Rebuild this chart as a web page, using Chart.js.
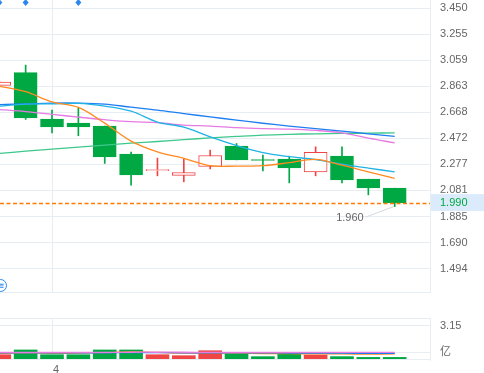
<!DOCTYPE html>
<html>
<head>
<meta charset="utf-8">
<script src="https://cdn.jsdelivr.net/npm/chart.js@4.4.0/dist/chart.umd.min.js"></script>
<style>
  html, body { margin: 0; padding: 0; background: #fff; overflow: hidden; }
  #wrap { position: relative; width: 484px; height: 373px; }
  #price { position: absolute; left: 0; top: 0; }
  #vol { position: absolute; left: 0; top: 300px; }
  .menu {
    position: absolute; left: -6px; top: 279px; width: 11px; height: 11px;
    border: 1px solid #2b87f0; border-radius: 50%; color: #2b87f0;
    font: 10px/11px "DejaVu Sans", sans-serif; text-align: center;
  }
</style>
</head>
<body>
<div id="wrap">
  <canvas id="price" width="484" height="293"></canvas>
  <canvas id="vol" width="484" height="73"></canvas>
  <div class="menu">≡</div>
</div>
<script>
// ─── Data ────────────────────────────────────────────────────────────────────
const dayIdx  = [0, 1, 2, 3, 4, 5, 6, 7, 8, 9, 10, 11, 12, 13, 14, 15];
const opens   = [2.871, 2.966, 2.617, 2.587, 2.565, 2.354, 2.230, 2.194, 2.261, 2.414, 2.307, 2.316, 2.221, 2.339, 2.166, 2.098];
const highs   = [2.905, 3.023, 2.685, 2.705, 2.565, 2.369, 2.324, 2.316, 2.384, 2.434, 2.346, 2.339, 2.409, 2.409, 2.166, 2.098];
const lows    = [2.860, 2.615, 2.514, 2.492, 2.284, 2.121, 2.191, 2.146, 2.243, 2.311, 2.228, 2.138, 2.191, 2.138, 2.048, 1.960];
const closes  = [2.896, 2.627, 2.559, 2.559, 2.334, 2.198, 2.231, 2.216, 2.344, 2.311, 2.306, 2.251, 2.367, 2.161, 2.100, 1.990];
const volumes = [0.49, 0.93, 0.49, 0.49, 0.93, 0.93, 0.49, 0.40, 0.86, 0.56, 0.31, 0.56, 0.46, 0.31, 0.24, 0.24];

const ma5  = [2.865, 2.823, 2.747, 2.705, 2.587, 2.452, 2.371, 2.322, 2.267, 2.264, 2.267, 2.290, 2.314, 2.271, 2.221, 2.171];
const ma10 = [2.715, 2.730, 2.732, 2.735, 2.715, 2.677, 2.595, 2.557, 2.484, 2.418, 2.365, 2.335, 2.313, 2.279, 2.249, 2.221];
const ma20 = [2.726, 2.732, 2.738, 2.738, 2.730, 2.707, 2.685, 2.659, 2.634, 2.610, 2.586, 2.565, 2.546, 2.527, 2.507, 2.487];
const ma30 = [2.689, 2.674, 2.653, 2.632, 2.613, 2.598, 2.591, 2.572, 2.565, 2.553, 2.546, 2.542, 2.532, 2.514, 2.474, 2.439];
const ma60 = [2.359, 2.376, 2.392, 2.407, 2.422, 2.437, 2.449, 2.463, 2.476, 2.487, 2.497, 2.503, 2.507, 2.510, 2.512, 2.514];

const volMa5  = [0.62, 0.64, 0.62, 0.63, 0.68, 0.74, 0.70, 0.64, 0.66, 0.62, 0.60, 0.59, 0.57, 0.56, 0.55, 0.56];
const volMa10 = [0.66, 0.66, 0.66, 0.66, 0.67, 0.68, 0.68, 0.67, 0.67, 0.66, 0.66, 0.65, 0.64, 0.63, 0.62, 0.62];
const volMa20 = [0.71, 0.71, 0.71, 0.71, 0.71, 0.72, 0.72, 0.72, 0.71, 0.71, 0.71, 0.71, 0.71, 0.70, 0.70, 0.70];

const priceTicks    = [3.450, 3.255, 3.059, 2.863, 2.668, 2.472, 2.277, 2.081, 1.885, 1.690, 1.494];
const volTicks      = [0.71, 3.15];
const volTickLabels = ["亿", "3.15"];
const xTickIdx      = [2];
const xTickLabels   = ["4"];
const markerIdx     = [0, 1, 3];
const lastPrice     = 1.990;

// ─── Style ───────────────────────────────────────────────────────────────────
const RED = "#f04545", GREEN = "#00a843";
const GRID = "#e8edf2", TICK = "#666";
const FONT = "'Liberation Sans', Arial, 'Noto Sans CJK SC', sans-serif";
const X_MIN = 0.027, X_MAX = 16.339;          // visible index window
const Y_MIN = 1.3104, Y_MAX = 3.5124;         // visible price window

const isUp = (i) => closes[i] >= opens[i];
const candleColor = dayIdx.map((i) => (isUp(i) ? RED : GREEN));

function xAxis(showLabels) {
    return {
        type: "linear", min: X_MIN, max: X_MAX, offset: false,
        afterBuildTicks: (s) => { s.ticks = xTickIdx.map((v) => ({ value: v })); },
        ticks: {
            display: showLabels, padding: 3, labelOffset: 4, color: TICK,
            font: { size: 11, family: FONT },
            callback: (v, idx) => xTickLabels[idx],
        },
        grid: { color: GRID, drawTicks: false, offset: false },
        border: { display: false },
        afterFit: (s) => { s.height = showLabels ? 13 : 0; s.paddingLeft = 0; s.paddingRight = 0; },
    };
}

function lineSet(values, color, order) {
    return {
        type: "line",
        data: dayIdx.map((i) => ({ x: i, y: values[i] })),
        borderColor: color, borderWidth: 1.3,
        pointRadius: 0, tension: 0.35, fill: false, order,
    };
}

// ─── Price chart overlays: last price, low marker, event diamonds ────────────
const priceOverlay = {
    id: "priceOverlay",
    afterDatasetsDraw(chart) {
        const { ctx, chartArea: a, scales: { x, y } } = chart;
        ctx.save();
        // dashed last-price line
        const py = Math.round(y.getPixelForValue(lastPrice)) + 0.5;
        ctx.strokeStyle = "#ff7a00";
        ctx.lineWidth = 1.5;
        ctx.setLineDash([4, 2.5]);
        ctx.beginPath(); ctx.moveTo(a.left, py); ctx.lineTo(a.right, py); ctx.stroke();
        ctx.setLineDash([]);
        ctx.lineWidth = 1;

        // lowest low annotation
        let lo = 0;
        dayIdx.forEach((i) => { if (lows[i] < lows[lo]) lo = i; });
        const lx = x.getPixelForValue(lo), ly = y.getPixelForValue(lows[lo]);
        ctx.strokeStyle = "#d4d8e0";
        ctx.beginPath(); ctx.moveTo(lx - 1, ly); ctx.lineTo(lx - 29, ly + 10.5); ctx.stroke();
        ctx.fillStyle = TICK;
        ctx.font = "11px " + FONT;
        ctx.textAlign = "right"; ctx.textBaseline = "middle";
        ctx.fillText(lows[lo].toFixed(3), lx - 31, ly + 11);

        // event diamonds along the top
        ctx.fillStyle = "#2b87f0";
        markerIdx.forEach((i) => {
            const mx = x.getPixelForValue(i), my = a.top + 2.5;
            ctx.beginPath();
            ctx.moveTo(mx, my - 3.5); ctx.lineTo(mx + 3, my);
            ctx.lineTo(mx, my + 3.5); ctx.lineTo(mx - 3, my);
            ctx.closePath(); ctx.fill();
        });
        ctx.restore();
    },
    afterDraw(chart) {
        const { ctx, chartArea: a, scales: { y } } = chart;
        ctx.save();
        // bottom border of the price pane
        ctx.strokeStyle = GRID;
        ctx.beginPath(); ctx.moveTo(a.left, a.bottom - 0.5); ctx.lineTo(a.right, a.bottom - 0.5); ctx.stroke();
        // last price tag on the axis
        const py = y.getPixelForValue(lastPrice);
        ctx.fillStyle = "#dcebfb";
        ctx.fillRect(a.right + 1, py - 8.5, chart.width - a.right - 1, 17);
        ctx.fillStyle = GREEN;
        ctx.font = "11px " + FONT;
        ctx.textAlign = "left"; ctx.textBaseline = "middle";
        ctx.fillText(lastPrice.toFixed(3), a.right + 10, py);
        ctx.restore();
    },
};

new Chart(document.getElementById("price"), {
    type: "bar",
    data: {
        datasets: [
            lineSet(ma5,  "#ff8a1f", 0),
            lineSet(ma10, "#21b2e6", 0),
            lineSet(ma20, "#1e7ef0", 0),
            lineSet(ma30, "#e57be3", 0),
            lineSet(ma60, "#3fc88c", 0),
            {
                // candle bodies
                data: dayIdx.map((i) => ({ x: i, y: [opens[i], closes[i]] })),
                backgroundColor: dayIdx.map((i) => (isUp(i) ? "#ffffff" : GREEN)),
                borderColor: candleColor,
                borderWidth: 1, borderSkipped: false,
                barThickness: 23, minBarLength: 1, grouped: false, order: 1,
            },
            {
                // wicks
                data: dayIdx.map((i) => ({ x: i, y: [lows[i], highs[i]] })),
                backgroundColor: candleColor,
                barThickness: 1, grouped: false, order: 2,
            },
        ],
    },
    options: {
        responsive: false, animation: false, devicePixelRatio: 1,
        layout: { padding: 0 },
        plugins: { legend: { display: false }, tooltip: { enabled: false } },
        scales: {
            x: xAxis(false),
            y: {
                position: "right", min: Y_MIN, max: Y_MAX,
                afterBuildTicks: (s) => { s.ticks = priceTicks.map((v) => ({ value: v })); },
                ticks: { padding: 10, color: TICK, font: { size: 11, family: FONT }, callback: (v) => v.toFixed(3) },
                grid: { color: GRID, drawTicks: false },
                border: { display: true, color: GRID },
                afterFit: (s) => { s.width = 54; s.paddingTop = 0; s.paddingBottom = 0; },
            },
        },
    },
    plugins: [priceOverlay],
});

// ─── Volume chart ────────────────────────────────────────────────────────────
const volFrame = {
    id: "volFrame",
    afterDraw(chart) {
        const { ctx, chartArea: a } = chart;
        ctx.save();
        ctx.strokeStyle = GRID;
        ctx.beginPath();
        ctx.moveTo(a.left, a.top + 0.5); ctx.lineTo(a.right, a.top + 0.5);
        ctx.moveTo(a.left, a.bottom - 0.5); ctx.lineTo(a.right, a.bottom - 0.5);
        ctx.stroke();
        ctx.restore();
    },
};

new Chart(document.getElementById("vol"), {
    type: "bar",
    data: {
        datasets: [
            lineSet(volMa20, "#e57be3", 0),
            lineSet(volMa10, "#1e7ef0", 0),
            lineSet(volMa5,  "#ff8a1f", 0),
            {
                data: dayIdx.map((i) => ({ x: i, y: volumes[i] })),
                backgroundColor: candleColor,
                barThickness: 23, grouped: false, order: 1,
            },
        ],
    },
    options: {
        responsive: false, animation: false, devicePixelRatio: 1,
        layout: { padding: { top: 18 } },
        plugins: { legend: { display: false }, tooltip: { enabled: false } },
        scales: {
            x: xAxis(true),
            y: {
                position: "right", min: 0, max: 3.891,
                afterBuildTicks: (s) => { s.ticks = volTicks.map((v) => ({ value: v })); },
                ticks: { padding: 10, color: TICK, font: { size: 11, family: FONT }, callback: (v, idx) => volTickLabels[idx] },
                grid: { color: GRID, drawTicks: false },
                border: { display: true, color: GRID },
                afterFit: (s) => { s.width = 54; s.paddingTop = 0; s.paddingBottom = 0; },
            },
        },
    },
    plugins: [volFrame],
});
</script>
</body>
</html>
